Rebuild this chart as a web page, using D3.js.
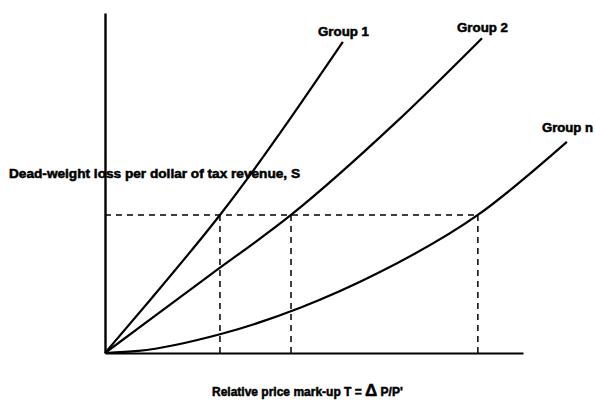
<!DOCTYPE html>
<html>
<head>
<meta charset="utf-8">
<script src="https://cdn.jsdelivr.net/npm/d3@7"></script>
<style>
  body { margin: 0; background: #fff; }
  text { font-family: "Liberation Sans", Arial, sans-serif; font-weight: bold; fill: #000; stroke: #000; stroke-width: 0.5px; }
</style>
</head>
<body>
<svg id="drawing_region"></svg>
<script>
// values, T (x) and S (y) in relative units 0..1
const group1 = [[0, 0], [0.108, 0.156], [0.275, 0.406], [0.569, 0.915]];
const group2 = [[0, 0], [0.251, 0.229], [0.445, 0.406], [0.694, 0.676], [0.902, 0.926]];
const groupN = [[0, 0], [0.08, 0.006], [0.275, 0.055], [0.467, 0.133], [0.653, 0.235], [0.892, 0.406], [1.105, 0.621]];
const groupNames = ["Group 1", "Group 2", "Group n"];
const sLevel = 0.406;              // common dead-weight loss level
const tAtLevel = [0.275, 0.445, 0.892];

const config = {
    width: 595,
    height: 401,
    margin: {top: 13, right: 72, bottom: 48, left: 105}
};

const svg = d3.select('#drawing_region')
    .attr('width', config.width)
    .attr('height', config.height);

const inner_width = config.width - config.margin.left - config.margin.right;
const inner_height = config.height - config.margin.top - config.margin.bottom;

const chart = svg.append('g')
    .attr('transform', `translate(${config.margin.left}, ${config.margin.top})`);

const xscale = d3.scaleLinear().domain([0, 1]).range([0, inner_width]);
const yscale = d3.scaleLinear().domain([0, 1]).range([inner_height, 0]);

// dashed guides
chart.append('line')
    .attr('x1', xscale(0)).attr('x2', xscale(tAtLevel[2]))
    .attr('y1', yscale(sLevel)).attr('y2', yscale(sLevel))
    .attr('stroke', '#000').attr('stroke-width', 1.5)
    .attr('stroke-dasharray', '6,5');

chart.selectAll('.vguide')
    .data(tAtLevel)
    .enter()
    .append('line')
    .attr('class', 'vguide')
    .attr('x1', d => xscale(d)).attr('x2', d => xscale(d))
    .attr('y1', yscale(sLevel)).attr('y2', yscale(0))
    .attr('stroke', '#000').attr('stroke-width', 1.5)
    .attr('stroke-dasharray', '6,5');

// curves
const line = d3.line()
    .x(d => xscale(d[0]))
    .y(d => yscale(d[1]))
    .curve(d3.curveMonotoneX);

chart.selectAll('.curve')
    .data([group1, group2, groupN])
    .enter()
    .append('path')
    .attr('class', 'curve')
    .attr('d', line)
    .attr('fill', 'none')
    .attr('stroke', '#000')
    .attr('stroke-width', 2.2);

// axes without ticks
const xaxis = d3.axisBottom(xscale).tickValues([]).tickSizeOuter(0);
const yaxis = d3.axisLeft(yscale).tickValues([]).tickSizeOuter(0);

chart.append('g')
    .attr('transform', `translate(0, ${inner_height})`)
    .call(xaxis)
    .select('.domain').attr('stroke-width', 2);

chart.append('g')
    .call(yaxis)
    .select('.domain').attr('stroke-width', 2.4);

// group labels
const labelPos = [[318, 36], [457, 32], [542, 132]];
svg.selectAll('.glabel')
    .data(groupNames)
    .enter()
    .append('text')
    .attr('class', 'glabel')
    .attr('x', (d, i) => labelPos[i][0])
    .attr('y', (d, i) => labelPos[i][1])
    .attr('textLength', 51)
    .attr('lengthAdjust', 'spacingAndGlyphs')
    .style('font-size', '12px')
    .text(d => d);

// axis titles
svg.append('text')
    .attr('x', 9)
    .attr('y', 178)
    .attr('textLength', 291)
    .attr('lengthAdjust', 'spacingAndGlyphs')
    .style('font-size', '12px')
    .text('Dead-weight loss per dollar of tax revenue, S');

const xlabel = svg.append('text')
    .attr('x', 212)
    .attr('y', 396)
    .style('font-size', '12px');
xlabel.append('tspan').text('Relative price mark-up T = ');
xlabel.append('tspan').style('font-size', '17px').text('Δ');
xlabel.append('tspan').text(' P/P\'');
</script>
</body>
</html>
